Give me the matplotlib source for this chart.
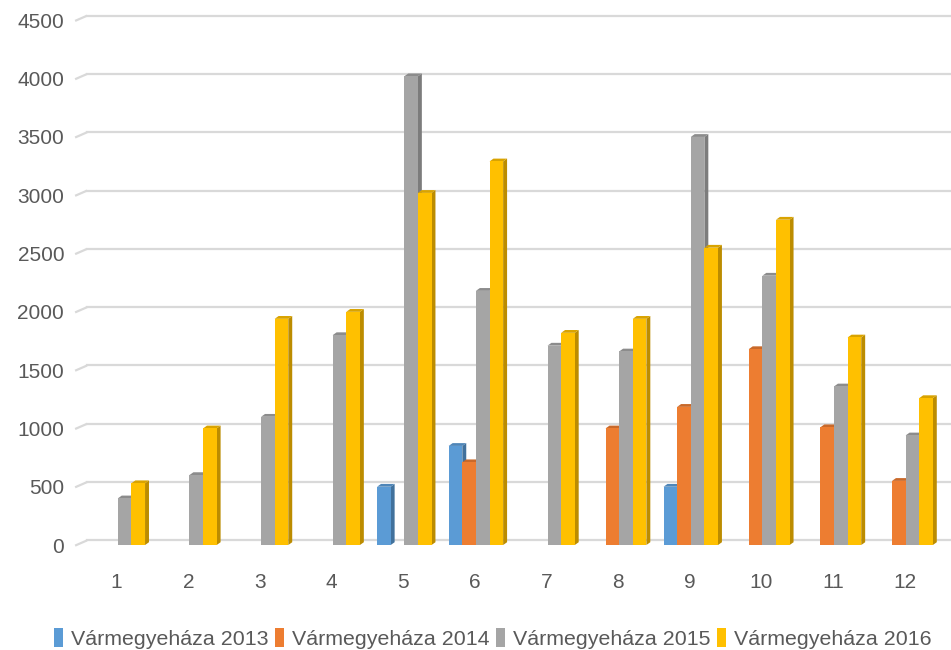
import numpy as np
import matplotlib
matplotlib.use('Agg')
import matplotlib.pyplot as plt
from matplotlib.patches import Polygon, Patch

# Data
months = ['1', '2', '3', '4', '5', '6', '7', '8', '9', '10', '11', '12']
series_names = ['Vármegyeháza 2013', 'Vármegyeháza 2014', 'Vármegyeháza 2015', 'Vármegyeháza 2016']
v2013 = [0, 0, 0, 0, 500, 850, 0, 0, 500, 0, 0, 0]
v2014 = [0, 0, 0, 0, 0, 710, 0, 1000, 1185, 1680, 1010, 550]
v2015 = [400, 600, 1100, 1800, 4020, 2180, 1710, 1660, 3500, 2310, 1360, 940]
v2016 = [530, 1000, 1940, 2000, 3020, 3290, 1820, 1940, 2550, 2790, 1780, 1260]

front = ['#5B9BD5', '#ED7D31', '#A5A5A5', '#FFC000']
side = ['#41719C', '#AE5A21', '#7C7C7C', '#BC8C00']
top = ['#4F86B8', '#C9692A', '#8C8C8C', '#D9A300']

plt.rcParams['font.family'] = ['Liberation Sans', 'DejaVu Sans']

fig = plt.figure(figsize=(9.51, 6.5), dpi=100)
ax = fig.add_axes([0.085, 0.1615, 0.915, 0.818])

x = np.arange(1, len(months) + 1)
w = 0.19
dx = 0.055   # depth shift (x units)
dy = 40      # depth shift (y units)

ax.set_xlim(0.5, 12.65)
ax.set_ylim(0, 4560)

# back-wall gridlines with a small floor diagonal on the left
for g in range(0, 4501, 500):
    ax.plot([0.42, 0.5 + dx * 1.6], [g - 5, g + dy], color='#D9D9D9', lw=1.6,
            clip_on=False, zorder=0, solid_capstyle='butt')
    ax.plot([0.5 + dx * 1.6, 12.65], [g + dy, g + dy], color='#D9D9D9', lw=1.6,
            zorder=0)

all_vals = [v2013, v2014, v2015, v2016]
for i, vals in enumerate(all_vals):
    xs = x + (i - 1.5) * w + dx * 0.3
    for xi, v in zip(xs, vals):
        if v <= 0:
            continue
        l, r = xi - w / 2, xi + w / 2
        ax.add_patch(Polygon([(r, 0), (r + dx, dy * 0.6), (r + dx, v + dy * 0.6), (r, v)],
                             closed=True, facecolor=side[i], edgecolor='none', zorder=2))
        ax.add_patch(Polygon([(l, v), (l + dx, v + dy * 0.6), (r + dx, v + dy * 0.6), (r, v)],
                             closed=True, facecolor=top[i], edgecolor='none', zorder=2))
    ax.bar(xs, vals, width=w, color=front[i], zorder=3)

ax.set_yticks(range(0, 4501, 500))
ax.set_yticklabels([str(t) for t in range(0, 4501, 500)])
ax.set_xticks(x)
ax.set_xticklabels(months)
ax.tick_params(axis='both', length=0, labelsize=15, colors='#595959')
ax.tick_params(axis='y', pad=12)
ax.tick_params(axis='x', pad=20)
for s in ax.spines.values():
    s.set_visible(False)

handles = [Patch(facecolor=c, edgecolor='none') for c in front]
fig.legend(handles, series_names, loc='lower center', bbox_to_anchor=(0.518, -0.028),
           ncol=4, frameon=False, fontsize=15.4, labelcolor='#595959',
           handlelength=0.45, handleheight=1.0, handletextpad=0.35, columnspacing=0.3)

fig.savefig('out.png', dpi=100)
